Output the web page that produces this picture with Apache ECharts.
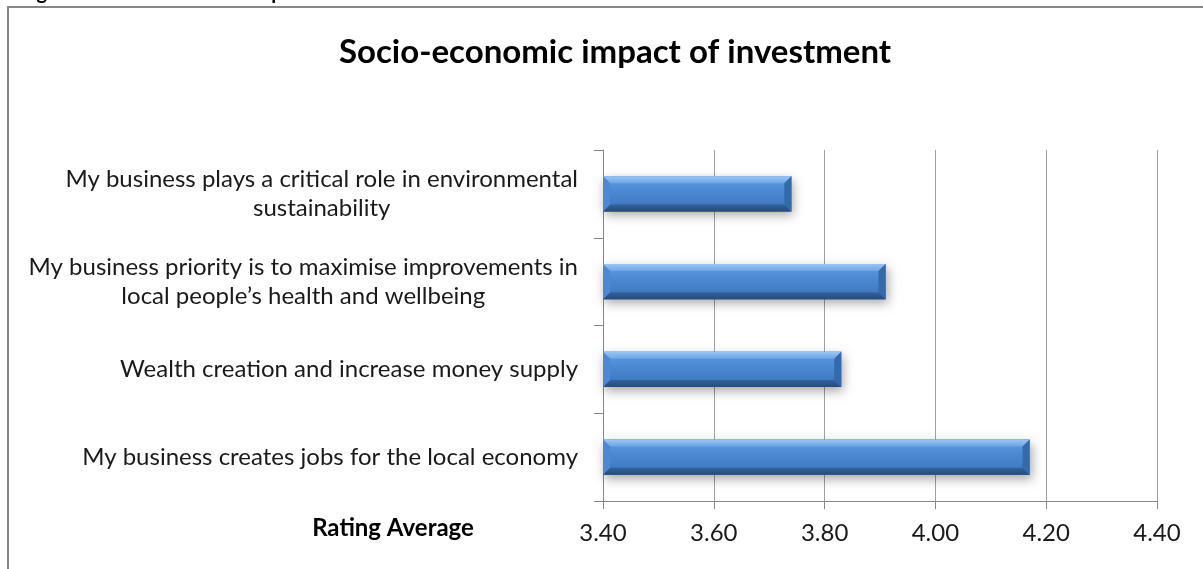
<!DOCTYPE html>
<html>
<head>
<meta charset="utf-8">
<style>
  html, body { margin: 0; padding: 0; background: #ffffff; }
  #chart { width: 1203px; height: 569px; }
</style>
<script src="https://cdn.jsdelivr.net/npm/echarts@6/dist/echarts.min.js"></script>
</head>
<body>
<div id="chart"></div>
<script>
// Survey statements, listed top to bottom
const categories = [
  'My business plays a critical role in environmental\nsustainability',
  'My business priority is to maximise improvements in\nlocal people\u2019s health and wellbeing',
  'Wealth creation and increase money supply',
  'My business creates jobs for the local economy'
];
// Rating average for each statement
const ratings = [3.74, 3.91, 3.83, 4.17];
// Value axis range and tick step
const axisMin = 3.4;
const axisMax = 4.4;
const axisStep = 0.2;

const FONT = 'Lato, "Open Sans", sans-serif';
const chart = echarts.init(document.getElementById('chart'), null, { renderer: 'canvas' });

function grad(stops) {
  return new echarts.graphic.LinearGradient(0, 0, 0, 1,
    stops.map(function (s) { return { offset: s[0], color: s[1] }; }));
}

// Bevelled horizontal bar drawn from the axis minimum to the value
function renderBar(params, api) {
  const idx = api.value(0);
  const val = api.value(1);
  const p0 = api.coord([axisMin, idx]);
  const p1 = api.coord([val, idx]);
  const h = api.size([0, 1])[1] * 0.4;
  const x0 = p0[0], x1 = p1[0];
  const yT = p0[1] - h / 2, yB = p0[1] + h / 2;
  const b = 7;
  return {
    type: 'group',
    children: [
      {
        type: 'rect',
        shape: { x: x0, y: yT, width: x1 - x0, height: h },
        style: {
          fill: '#3a72ba',
          shadowBlur: 10, shadowOffsetX: 2, shadowOffsetY: 4,
          shadowColor: 'rgba(0,0,0,0.35)'
        }
      },
      {
        type: 'rect',
        shape: { x: x0, y: yT, width: x1 - x0, height: h },
        style: { fill: grad([[0, '#5f9de2'], [0.35, '#4f8cd6'], [1, '#3a72ba']]) }
      },
      {
        type: 'polygon',
        shape: { points: [[x0, yT], [x1, yT], [x1 - b, yT + b], [x0 + b, yT + b]] },
        style: { fill: grad([[0, '#9cc6f2'], [1, '#6aa4e6']]) }
      },
      {
        type: 'polygon',
        shape: { points: [[x0, yB], [x1, yB], [x1 - b, yB - b], [x0 + b, yB - b]] },
        style: { fill: grad([[0, '#33629e'], [1, '#274a7c']]) }
      },
      {
        type: 'polygon',
        shape: { points: [[x1, yT], [x1, yB], [x1 - b, yB - b], [x1 - b, yT + b]] },
        style: { fill: '#346aa9' }
      },
      {
        type: 'polygon',
        shape: { points: [[x0, yT], [x0, yB], [x0 + b, yB - b], [x0 + b, yT + b]] },
        style: { fill: '#4b89d4' }
      }
    ]
  };
}

const option = {
  backgroundColor: '#ffffff',
  animation: false,
  title: {
    text: 'Socio-economic impact of investment',
    left: 610,
    top: 31,
    textAlign: 'center',
    textStyle: { fontFamily: FONT, fontSize: 33, fontWeight: 'bold', color: '#000000' }
  },
  graphic: [
    {
      type: 'rect', z: -10, silent: true,
      shape: { x: 8, y: 7, width: 1400, height: 800 },
      style: { fill: 'none', stroke: '#878787', lineWidth: 2 }
    },
    {
      type: 'text', silent: true,
      left: 20, top: -17,
      style: {
        text: 'Figure 4: Socio-economic impact of investment',
        fontFamily: FONT, fontSize: 20, fontWeight: 'bold', fill: '#000000'
      }
    },
    {
      type: 'text', silent: true,
      x: 393, y: 528,
      style: {
        text: 'Rating Average',
        align: 'center', verticalAlign: 'middle',
        fontFamily: FONT, fontSize: 24, fontWeight: 'bold', fill: '#000000'
      }
    }
  ],
  grid: { left: 603, right: 46, top: 150, bottom: 68, containLabel: false },
  xAxis: {
    type: 'value',
    min: axisMin,
    max: axisMax,
    interval: axisStep,
    axisLine: { show: true, lineStyle: { color: '#888888', width: 1 } },
    axisTick: { show: true, inside: false, length: 8, lineStyle: { color: '#888888' } },
    splitLine: { show: true, lineStyle: { color: '#a0a0a0', width: 1 } },
    axisLabel: {
      margin: 20,
      fontFamily: FONT, fontSize: 24, color: '#1a1a1a',
      formatter: function (v) { return v.toFixed(2); }
    }
  },
  yAxis: {
    type: 'category',
    inverse: true,
    data: categories,
    axisLine: { show: true, lineStyle: { color: '#888888', width: 1 } },
    axisTick: { show: true, inside: false, length: 9, alignWithLabel: false, lineStyle: { color: '#888888' } },
    splitLine: { show: false },
    axisLabel: {
      margin: 25,
      fontFamily: FONT, fontSize: 24, lineHeight: 29, color: '#1a1a1a',
      formatter: function (v) {
        return v.split('\n').map(function (l) { return '{c|' + l + '}'; }).join('\n');
      },
      rich: {
        c: { align: 'center', fontFamily: FONT, fontSize: 24, lineHeight: 29, color: '#1a1a1a' }
      }
    }
  },
  series: [
    {
      type: 'custom',
      renderItem: renderBar,
      encode: { x: 1, y: 0 },
      data: ratings.map(function (v, i) { return [i, v]; }),
      clip: false
    }
  ]
};

chart.setOption(option);
</script>
</body>
</html>
